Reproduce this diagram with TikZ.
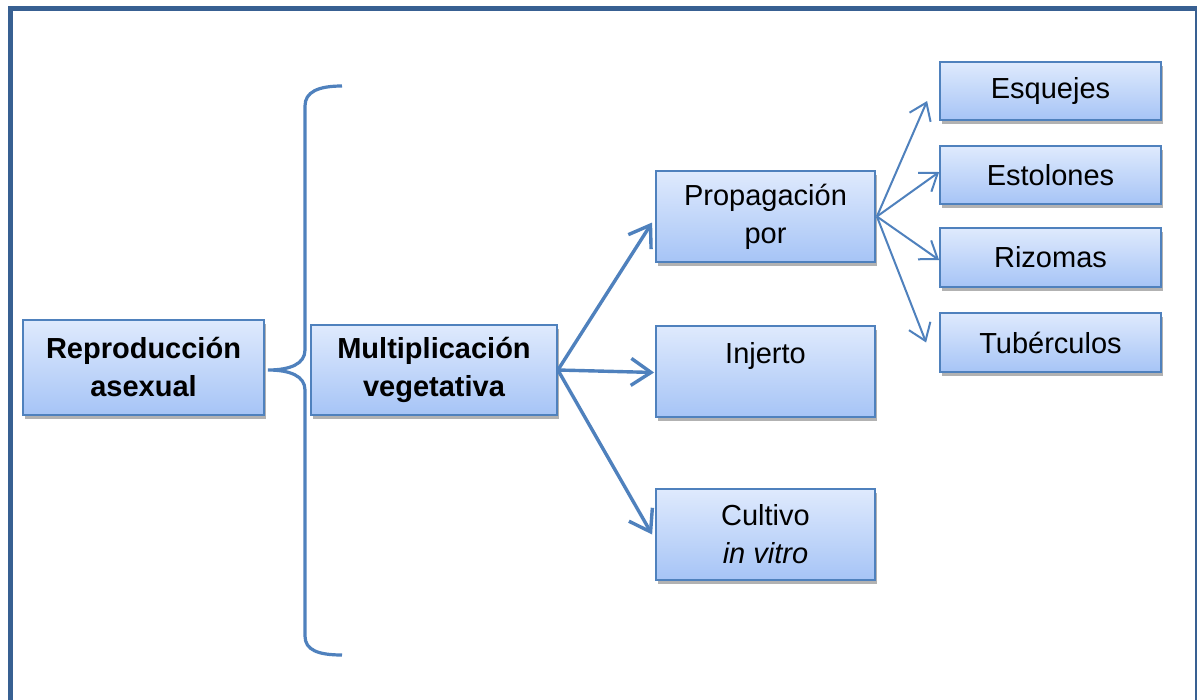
\documentclass[tikz,border=0pt]{standalone}
\usepackage{fontspec}
\setmainfont{Liberation Sans}
\usetikzlibrary{arrows.meta,shadows}
\definecolor{framec}{RGB}{56,96,146}
\definecolor{linec}{RGB}{79,129,189}
\definecolor{boxtop}{RGB}{223,234,253}
\definecolor{boxbot}{RGB}{166,196,246}
\tikzset{
  box/.style={draw=linec, line width=1.8pt, top color=boxtop, bottom color=boxbot,
    align=center, inner sep=0pt, font=\fontsize{29}{38}\selectfont,
    drop shadow={shadow xshift=1.5pt, shadow yshift=-3.5pt, opacity=0.3, fill=black}},
  bigarrow/.style={draw=linec, line width=3.4pt, -{Straight Barb[length=20pt,width=27pt]}},
  smallarrow/.style={draw=linec, line width=2pt, -{Straight Barb[length=16pt,width=23pt]}},
  bracec/.style={draw=linec, line width=3.2pt},
  framestyle/.style={draw=framec, line width=5pt}
}
\begin{document}
\begin{tikzpicture}[x=1pt,y=-1pt]
\useasboundingbox (0,0) rectangle (1197,699);
\clip (0,0) rectangle (1197,699);
\fill[white] (0,0) rectangle (1197,699);
\draw[framestyle] (10,8.5) rectangle (1197.5,705);

\node[box, minimum width=241pt, minimum height=95pt] (rep) at (143.5,367.5) {\bfseries Reproducción\\\bfseries asexual};
\node[box, minimum width=246pt, minimum height=90pt] (mult) at (434,370) {\bfseries Multiplicación\\\bfseries vegetativa};
\node[box, minimum width=219pt, minimum height=91pt] (prop) at (765.5,216.5) {Propagación\\por};
\node[box, minimum width=219pt, minimum height=91pt] (inj) at (765.5,371.5) {Injerto\\\mbox{}};
\node[box, minimum width=219pt, minimum height=91pt] (cult) at (765.5,534.5) {Cultivo\\\textit{in vitro}};
\node[box, minimum width=221pt, minimum height=58pt] (esq) at (1050.5,91) {Esquejes};
\node[box, minimum width=221pt, minimum height=58pt] (est) at (1050.5,175) {Estolones};
\node[box, minimum width=221pt, minimum height=59pt] (riz) at (1050.5,257.5) {Rizomas};
\node[box, minimum width=221pt, minimum height=59pt] (tub) at (1050.5,342.5) {Tubérculos};

% brace
\draw[bracec] (342,86) .. controls (318,86) and (305,92) .. (305,106)
  -- (305,350) .. controls (305,364) and (290,370) .. (268,370)
  .. controls (290,370) and (305,376) .. (305,390)
  -- (305,636) .. controls (305,650) and (318,655) .. (342,655);

% main arrows
\draw[bigarrow] (mult.east) -- ([xshift=-3pt,yshift=-6pt]prop.west);
\draw[bigarrow] (mult.east) -- ([xshift=-1pt,yshift=-1pt]inj.west);
\draw[bigarrow] (mult.east) -- ([xshift=-3pt]cult.west);

% small arrows
\draw[smallarrow] ([xshift=1pt]prop.east) -- ([xshift=-12pt,yshift=-10pt]esq.west);
\draw[smallarrow] ([xshift=1pt]prop.east) -- ([yshift=3pt]est.west);
\draw[smallarrow] ([xshift=1pt]prop.east) -- ([yshift=-2.5pt]riz.west);
\draw[smallarrow] ([xshift=1pt]prop.east) -- ([xshift=-13pt,yshift=0pt]tub.west);
\end{tikzpicture}
\end{document}
